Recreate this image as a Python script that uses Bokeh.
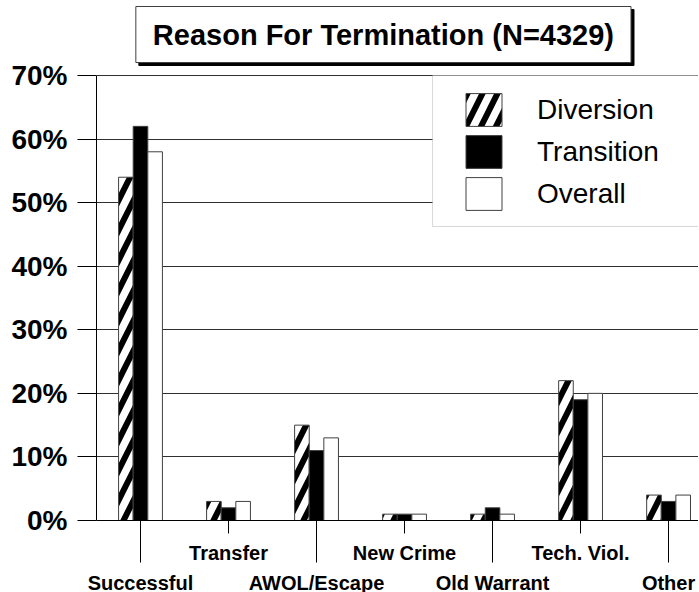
from bokeh.plotting import figure
from bokeh.models import (ColumnDataSource, Range1d, FixedTicker, LinearAxis,
                          PrintfTickFormatter, Label, Legend, LegendItem, BoxAnnotation)
from bokeh.transform import dodge
from bokeh.embed import file_html
from bokeh.resources import INLINE
import numpy as np

categories = ["Successful", "Transfer", "AWOL/Escape", "New Crime",
              "Old Warrant", "Tech. Viol.", "Other"]
diversion = [54, 3, 15, 1, 1, 22, 4]
transition = [62, 2, 11, 1, 2, 19, 3]
overall = [58, 3, 13, 1, 1, 20, 4]
series_names = ["Diversion", "Transition", "Overall"]
y_ticks = [0, 10, 20, 30, 40, 50, 60, 70]
title_text = "Reason For Termination (N=4329)"

FONT = "Liberation Sans"
idx = np.arange(len(categories))
src = ColumnDataSource(dict(x=idx, cat=categories, d=diversion, t=transition, o=overall))

# frame reaches up to the page top so the title box can sit inside it
p = figure(frame_width=602, frame_height=520, output_backend="svg",
           toolbar_location=None, x_range=Range1d(-0.5, 6.34), y_range=Range1d(0, 81.8),
           min_border_left=96, min_border_top=0, min_border_right=0,
           x_axis_type=None)
p.outline_line_color = None
p.background_fill_color = "white"
p.border_fill_color = "white"

bw = 0.166
r_d = p.vbar(x=dodge("x", -bw), top="d", width=bw, source=src, fill_color="white",
             hatch_pattern="/", hatch_color="black", hatch_weight=6, hatch_scale=30,
             line_color="#404040", line_width=1)
r_t = p.vbar(x=dodge("x", 0), top="t", width=bw, source=src, fill_color="black",
             line_color="#404040", line_width=1)
r_o = p.vbar(x=dodge("x", bw), top="o", width=bw, source=src, fill_color="white",
             line_color="#404040", line_width=1)

# y axis
ya = p.yaxis[0]
ya.ticker = FixedTicker(ticks=y_ticks)
ya.bounds = (0, 70)
ya.formatter = PrintfTickFormatter(format="%d%%")
ya.major_tick_out = 19
ya.major_tick_in = 0
ya.minor_tick_out = 0
ya.minor_tick_in = 0
ya.major_label_standoff = 10
ya.major_label_text_font = FONT
ya.major_label_text_font_style = "bold"
ya.major_label_text_font_size = "28px"
ya.major_label_text_color = "black"
ya.axis_line_color = "black"
ya.major_tick_line_color = "black"

p.ygrid.ticker = FixedTicker(ticks=y_ticks[1:])
p.ygrid.grid_line_color = "#303030"
p.xgrid.visible = False

# x axes: odd labels on upper row, even labels on lower row
odd = [int(i) for i in idx if i % 2 == 1]
even = [int(i) for i in idx if i % 2 == 0]
xa1 = LinearAxis(ticker=FixedTicker(ticks=odd, minor_ticks=even),
                 major_label_overrides={i: categories[i] for i in odd})
xa1.major_tick_out = 13
xa1.major_tick_in = 0
xa1.minor_tick_out = 42
xa1.minor_tick_in = 0
xa1.major_label_standoff = -21
xa1.axis_line_color = "black"
xa1.major_tick_line_color = "black"
xa1.minor_tick_line_color = "black"
xa2 = LinearAxis(ticker=FixedTicker(ticks=even),
                 major_label_overrides={i: categories[i] for i in even})
xa2.major_tick_out = 0
xa2.major_tick_in = 0
xa2.minor_tick_out = 0
xa2.minor_tick_in = 0
xa2.axis_line_color = None
xa2.major_label_standoff = 5
for a in (xa1, xa2):
    a.major_label_text_font = FONT
    a.major_label_text_font_style = "bold"
    a.major_label_text_font_size = "20px"
    a.major_label_text_color = "black"
p.add_layout(xa1, "below")
p.add_layout(xa2, "below")

# legend box (drawn separately so the items can sit further in)
legend_box = BoxAnnotation(left=3.318, top=70, bottom=46.25, fill_color="white",
                           fill_alpha=1.0, line_color="#808080", line_width=1)
p.add_layout(legend_box)

legend = Legend(items=[LegendItem(label=series_names[0], renderers=[r_d]),
                       LegendItem(label=series_names[1], renderers=[r_t]),
                       LegendItem(label=series_names[2], renderers=[r_o])],
                location=(365, 306), margin=0, padding=18, spacing=1,
                glyph_width=45, glyph_height=41, label_standoff=31, label_width=120,
                label_text_font=FONT, label_text_font_size="28px",
                label_text_color="black", border_line_color=None,
                background_fill_alpha=0.0)
p.add_layout(legend, "center")

# title box with shadow
tx, ty = 2.76, 76.45
shadow = Label(x=tx, y=ty, x_offset=3, y_offset=-3, text=title_text,
               text_align="center", text_baseline="middle", text_font=FONT,
               text_font_style="bold", text_font_size="29px", text_color="black",
               background_fill_color="black", border_line_color="black",
               padding=dict(x=17, y=12))
tlabel = Label(x=tx, y=ty, text=title_text,
               text_align="center", text_baseline="middle", text_font=FONT,
               text_font_style="bold", text_font_size="29px", text_color="black",
               background_fill_color="white", border_line_color="#404040",
               border_line_width=1, padding=dict(x=17, y=12))
p.add_layout(shadow)
p.add_layout(tlabel)

open("out.html", "w").write(file_html(p, INLINE))
